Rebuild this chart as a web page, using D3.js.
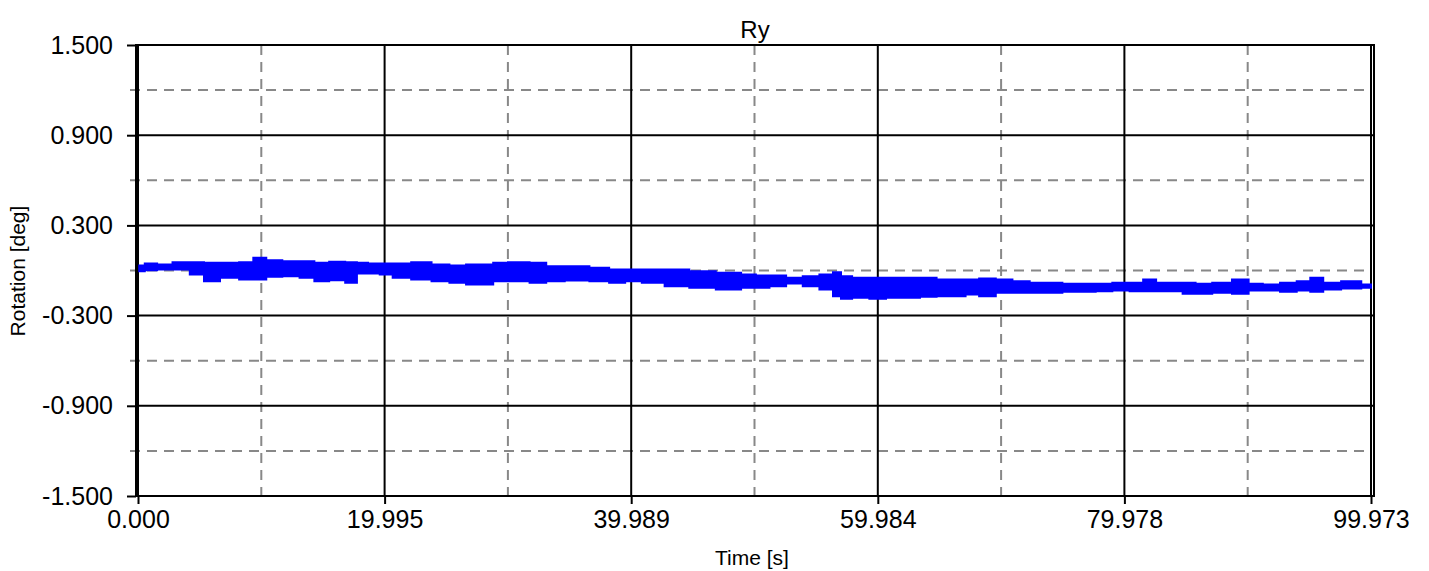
<!DOCTYPE html>
<html>
<head>
<meta charset="utf-8">
<script src="https://cdn.jsdelivr.net/npm/d3@7"></script>
<style>
  body { margin: 0; background: #fff; }
  text { font-family: "Liberation Sans", Arial, sans-serif; fill: #000; }
</style>
</head>
<body>
<div class="chart"></div>
<script>
// tick values
var xTicks = [0, 19.995, 39.989, 59.984, 79.978, 99.973];
var yTicks = [-1.5, -0.9, -0.3, 0.3, 0.9, 1.5];

// Ry signal, read as the upper and lower edge of the noisy band
var time = [0.1, 1.0, 2.1, 3.5, 4.9, 5.8, 7.5, 8.9, 9.8, 11.0, 12.4, 13.8, 14.8, 16.2, 17.4, 18.1, 19.2, 20.0,
  21.3, 23.0, 24.6, 25.9, 27.3, 28.4, 29.2, 30.8, 32.7, 33.5, 35.7, 37.5, 38.9, 40.1, 41.6, 43.8, 45.6, 48.1,
  49.7, 50.5, 51.9, 53.2, 54.6, 55.9, 56.8, 57.2, 58.6, 60.0, 61.3, 62.7, 64.1, 65.4, 66.7, 67.5, 68.9, 70.2,
  71.6, 73.0, 74.3, 75.6, 77.0, 78.3, 79.7, 81.1, 81.9, 83.2, 84.3, 85.1, 86.4, 87.8, 89.6, 90.5, 91.9, 93.3,
  94.6, 95.5, 96.7, 98.4, 99.97];
var upper = [0.033, 0.047, 0.040, 0.055, 0.055, 0.051, 0.051, 0.055, 0.085, 0.069, 0.062, 0.062, 0.051, 0.058,
  0.055, 0.051, 0.047, 0.047, 0.047, 0.055, 0.040, 0.033, 0.040, 0.040, 0.051, 0.055, 0.051, 0.029, 0.029,
  0.018, 0.007, 0.007, 0.007, 0.007, -0.005, -0.015, -0.027, -0.033, -0.033, -0.049, -0.038, -0.027, -0.011,
  -0.038, -0.049, -0.049, -0.049, -0.049, -0.049, -0.060, -0.060, -0.060, -0.053, -0.060, -0.071, -0.082,
  -0.082, -0.088, -0.088, -0.088, -0.082, -0.082, -0.060, -0.082, -0.082, -0.082, -0.088, -0.082, -0.060,
  -0.088, -0.093, -0.082, -0.071, -0.049, -0.082, -0.071, -0.093];
var lower = [-0.005, 0.002, 0.007, 0.007, -0.027, -0.071, -0.049, -0.060, -0.060, -0.042, -0.038, -0.049, -0.071,
  -0.065, -0.082, -0.020, -0.020, -0.027, -0.049, -0.060, -0.071, -0.082, -0.093, -0.093, -0.071, -0.071,
  -0.082, -0.071, -0.067, -0.071, -0.082, -0.071, -0.082, -0.104, -0.115, -0.126, -0.115, -0.115, -0.104,
  -0.086, -0.104, -0.126, -0.171, -0.188, -0.182, -0.188, -0.182, -0.182, -0.175, -0.171, -0.171, -0.160,
  -0.171, -0.148, -0.148, -0.148, -0.148, -0.142, -0.142, -0.138, -0.133, -0.138, -0.138, -0.138, -0.138,
  -0.155, -0.155, -0.148, -0.155, -0.133, -0.133, -0.142, -0.133, -0.142, -0.126, -0.120, -0.115];

var svgWidth = 1429;
var svgHeight = 571;

var svg = d3.select(".chart")
  .append("svg")
  .attr("width", svgWidth)
  .attr("height", svgHeight);

var x = d3.scaleLinear().domain([0, 99.973]).range([138, 1371]);
var y = d3.scaleLinear().domain([-1.5, 1.5]).range([496, 45]);

// plain hyphen for negatives, 3 decimals
var fmt = d => d3.format(".3f")(d).replace("\u2212", "-");

// minor grid at the midpoints
var xMinor = d3.pairs(xTicks).map(p => (p[0] + p[1]) / 2);
var yMinor = d3.pairs(yTicks).map(p => (p[0] + p[1]) / 2);

var grid = svg.append("g");
grid.selectAll(".xminor").data(xMinor).join("line")
  .attr("x1", d => x(d)).attr("x2", d => x(d))
  .attr("y1", 45).attr("y2", 501)
  .attr("stroke", "#888").attr("stroke-width", 2).attr("stroke-dasharray", "10,7");
grid.selectAll(".yminor").data(yMinor).join("line")
  .attr("x1", 130).attr("x2", 1372)
  .attr("y1", d => y(d)).attr("y2", d => y(d))
  .attr("stroke", "#888").attr("stroke-width", 2).attr("stroke-dasharray", "10,7");
grid.selectAll(".xmajor").data(xTicks).join("line")
  .attr("x1", d => x(d)).attr("x2", d => x(d))
  .attr("y1", 45).attr("y2", 496)
  .attr("stroke", "#000").attr("stroke-width", 2);
grid.selectAll(".ymajor").data(yTicks).join("line")
  .attr("x1", 137).attr("x2", 1373)
  .attr("y1", d => y(d)).attr("y2", d => y(d))
  .attr("stroke", "#000").attr("stroke-width", 2);

// signal band
var band = time.map((t, i) => ({t: t, hi: upper[i], lo: lower[i]}));
svg.append("path")
  .datum(band)
  .attr("fill", "#0000ff")
  .attr("stroke", "#0000ff")
  .attr("stroke-width", 2)
  .attr("d", d3.area().curve(d3.curveStep).x(d => x(d.t)).y0(d => y(d.lo)).y1(d => y(d.hi)));

// frame
svg.append("rect")
  .attr("x", 136).attr("y", 45)
  .attr("width", 1238).attr("height", 451)
  .attr("fill", "none").attr("stroke", "#000").attr("stroke-width", 2);

// axes
var xAxis = svg.append("g")
  .attr("transform", "translate(0,496)")
  .call(d3.axisBottom(x).tickValues(xTicks).tickFormat(fmt).tickSize(8).tickPadding(6));
var yAxis = svg.append("g")
  .attr("transform", "translate(136,0)")
  .call(d3.axisLeft(y).tickValues(yTicks).tickFormat(fmt).tickSize(9).tickPadding(14));
[xAxis, yAxis].forEach(function(a) {
  a.select(".domain").remove();
  a.selectAll("line").attr("stroke", "#000").attr("stroke-width", 2);
  a.selectAll("text").style("font-size", "25px").attr("fill", "#000")
    .style("font-family", "Liberation Sans, Arial, sans-serif");
});

// titles
svg.append("text")
  .attr("x", 755).attr("y", 38)
  .attr("text-anchor", "middle")
  .style("font-size", "24px")
  .text("Ry");
svg.append("text")
  .attr("x", 752).attr("y", 565)
  .attr("text-anchor", "middle")
  .style("font-size", "21px")
  .text("Time [s]");
svg.append("text")
  .attr("transform", "translate(25,271) rotate(-90)")
  .attr("text-anchor", "middle")
  .style("font-size", "21px")
  .text("Rotation [deg]");
</script>
</body>
</html>
